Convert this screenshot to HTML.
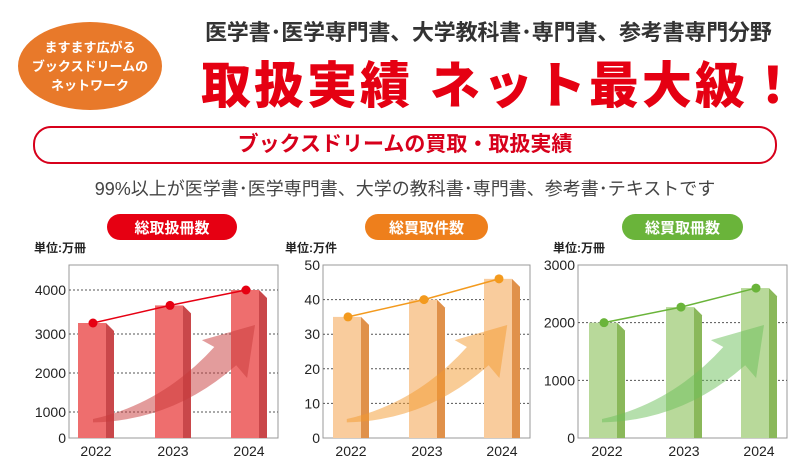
<!DOCTYPE html>
<html><head><meta charset="utf-8">
<style>
body{margin:0;width:810px;height:475px;background:#fff;overflow:hidden;font-family:"Liberation Sans","Noto Sans CJK JP",sans-serif;}
.abs{position:absolute;}
</style></head>
<body>
<div style="position:relative;width:810px;height:475px;">
<div class="abs" style="left:18px;top:22px;width:144px;height:88px;border-radius:50%;background:#e8792a;color:#fff;font-weight:bold;font-size:13px;line-height:19px;text-align:center;display:flex;align-items:center;justify-content:center;">ますます広がる<br>ブックスドリームの<br>ネットワーク</div>
<div class="abs" style="left:205px;top:15px;width:590px;font-size:22px;font-weight:bold;color:#333;white-space:nowrap;letter-spacing:-0.2px;">医学書･医学専門書、大学教科書･専門書、参考書専門分野</div>
<div class="abs" style="left:201px;top:46px;width:610px;font-size:50px;font-weight:900;color:#e50012;white-space:nowrap;letter-spacing:3px;">取扱実績 ネット最大級！</div>
<div class="abs" style="left:33px;top:126px;width:740px;height:34px;border:2px solid #d7001b;border-radius:18px;text-align:center;line-height:34px;font-size:21px;font-weight:bold;color:#d7001b;">ブックスドリームの買取・取扱実績</div>
<div class="abs" style="left:0;top:175px;width:810px;text-align:center;font-size:18px;color:#444;">99%以上が医学書･医学専門書、大学の教科書･専門書、参考書･テキストです</div>
<svg id="chart" class="abs" style="left:0;top:0" width="810" height="475"></svg>
</div>
<script>
const categories=["2022","2023","2024"];
const totalValues=[3250,3650,4000];
const purchaseCountValues=[35,40,46];
const purchaseVolumeValues=[2000,2270,2600];
const ticks1=[0,1000,2000,3000,4000];
const ticks2=[0,10,20,30,40,50];
const ticks3=[0,1000,2000,3000];
const titles=["総取扱冊数","総買取件数","総買取冊数"];
const units=["単位:万冊","単位:万件","単位:万冊"];

const NS="http://www.w3.org/2000/svg";
const svg=document.getElementById('chart');
function mk(t,a,p){const e=document.createElementNS(NS,t);for(const k in a)e.setAttribute(k,a[k]);(p||svg).appendChild(e);return e;}

const cfg=[
 {vals:totalValues,ticks:ticks1,tickY:[438,412,373,334,290],x0:69,x1:278,bars:[78,155,231],front:"#ee6e6e",side:"#c9474a",line:"#e60012",arrow:"#c8393a",pill:[107,130,"#e60012"],unitX:34,grid:[1000,2000,3000,4000],name:"total"},
 {vals:purchaseCountValues,ticks:ticks2,tickY:null,max:50,x0:323,x1:530,bars:[333,409,484],front:"#f9cc9d",side:"#e0914a",line:"#f39a1e",arrow:"#f39a2e",pill:[365,123,"#ee7f1c"],unitX:285,grid:[10,20,30,40],name:"purchase-count"},
 {vals:purchaseVolumeValues,ticks:ticks3,tickY:null,max:3000,x0:578,x1:787,bars:[589,666,741],front:"#b8d99a",side:"#8ab85a",line:"#6ab43a",arrow:"#6cbf5a",pill:[622,121,"#6ab43a"],unitX:553,grid:[1000,2000],name:"purchase-volume"}
];
const TOP=265,BOT=438;
cfg.forEach((c,ci)=>{
 const y=v=>{
  if(c.tickY){for(let i=0;i<c.ticks.length-1;i++){const a=c.ticks[i],b=c.ticks[i+1];if(v<=b||i==c.ticks.length-2)return c.tickY[i]+(v-a)/(b-a)*(c.tickY[i+1]-c.tickY[i]);}}
  return BOT-(v/c.max)*(BOT-TOP);
 };
 const g=mk('g',{});
 
 
 const p=mk('rect',{x:c.pill[0],y:214,width:c.pill[1],height:26,rx:13,fill:c.pill[2]},g);
 
 
 const tt=mk('text',{x:c.pill[0]+c.pill[1]/2,y:233,'text-anchor':'middle','font-size':15,'font-weight':'bold',fill:'#fff'},g);tt.textContent=titles[ci];
 
 
 const ut=mk('text',{x:c.unitX,y:252,'font-size':12,'font-weight':'bold',fill:'#222'},g);ut.textContent=units[ci];
 
 
 mk('rect',{x:c.x0,y:TOP,width:c.x1-c.x0,height:BOT-TOP,fill:'#fff',stroke:'#999','stroke-width':1},g);
 c.grid.forEach(v=>{const gl=mk('line',{x1:c.x0,x2:c.x1,y1:y(v),y2:y(v),stroke:'#555','stroke-width':1,'stroke-dasharray':'2,2'},g);
  
  });
 c.ticks.forEach(v=>{const t=mk('text',{x:c.x0-3,y:y(v)+5,'text-anchor':'end','font-size':14,fill:'#222'},g);t.textContent=v;
  
  });
 const bw=28,sw=8;
 c.vals.forEach((v,i)=>{
  const bx=c.bars[i],ty=y(v);
  const b=mk('rect',{x:bx,y:ty,width:bw,height:BOT-ty,fill:c.front},g);
  
  
  const s=mk('polygon',{points:`${bx+bw},${ty} ${bx+bw+sw},${ty+8} ${bx+bw+sw},${BOT} ${bx+bw},${BOT}`,fill:c.side},g);
  
  
  const xl=mk('text',{x:bx+bw/2+4,y:456,'text-anchor':'middle','font-size':14,fill:'#222'},g);xl.textContent=categories[i];
  
  
 });
 const W=c.x1-c.x0,H=BOT-TOP,P=(fx,fy)=>`${(c.x0+fx*W).toFixed(1)},${(BOT-fy*H).toFixed(1)}`;
 const ar=mk('path',{d:`M${P(0.115,0.09)} Q${P(0.5,0.1)} ${P(0.8,0.42)} L${P(0.852,0.347)} L${P(0.89,0.653)} L${P(0.636,0.566)} L${P(0.695,0.526)} Q${P(0.45,0.2)} ${P(0.115,0.11)} Z`,fill:c.arrow,opacity:0.5},g);
 
 
 const pts=c.vals.map((v,i)=>[c.bars[i]+15,y(v)]);
 const ln=mk('polyline',{points:pts.map(q=>q.join(',')).join(' '),fill:'none',stroke:c.line,'stroke-width':1.5},g);
 
 
 pts.forEach((q,i)=>{const d=mk('circle',{cx:q[0],cy:q[1],r:4.5,fill:c.line},g);
  
  });
});
</script>
</body></html>
